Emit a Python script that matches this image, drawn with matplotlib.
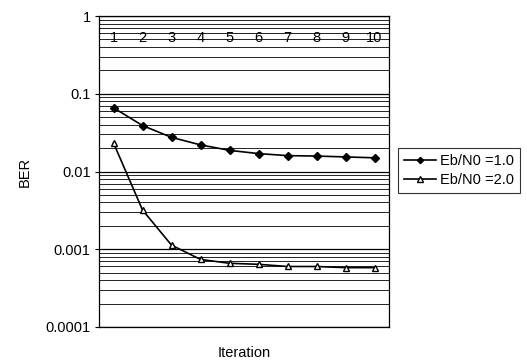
import matplotlib
matplotlib.use("Agg")
import matplotlib.pyplot as plt
import numpy as np
from matplotlib.ticker import LogLocator, FixedLocator, NullFormatter

plt.rcParams['font.family'] = ['Liberation Sans', 'DejaVu Sans']

iterations = [1, 2, 3, 4, 5, 6, 7, 8, 9, 10]
ber_eb1 = [0.066, 0.039, 0.0275, 0.022, 0.0187, 0.017, 0.016, 0.0158, 0.0154, 0.015]
ber_eb2 = [0.0233, 0.0032, 0.00113, 0.00074, 0.00066, 0.00064, 0.0006, 0.0006, 0.00058, 0.00058]
ytick_vals = [1, 0.1, 0.01, 0.001, 0.0001]
ytick_labels = ["1", "0.1", "0.01", "0.001", "0.0001"]

fig = plt.figure(figsize=(5.27, 3.60), dpi=100)
ax = fig.add_axes([99/527, 1-327/360, 290/527, 311/360])
ax.set_yscale('log')
ax.set_ylim(0.0001, 1)
ax.set_xlim(0.5, 10.5)

ax.yaxis.set_major_locator(FixedLocator(ytick_vals))
ax.set_yticklabels(ytick_labels, fontsize=10.5)
ax.yaxis.set_minor_locator(LogLocator(base=10, subs=np.arange(2, 10)))
ax.yaxis.set_minor_formatter(NullFormatter())
ax.grid(True, which='major', axis='y', color='black', linewidth=0.9)
ax.grid(True, which='minor', axis='y', color='#222222', linewidth=0.7)
ax.tick_params(axis='y', which='major', length=3, width=0.8, pad=3)
ax.tick_params(axis='y', which='minor', length=0)

ax.set_xticks([])
for it in iterations:
    ax.text(it, 0.929, str(it), transform=ax.get_xaxis_transform(),
            ha='center', va='center', fontsize=10.5)

ax.plot(iterations, ber_eb1, color='black', linewidth=1.2, marker='D',
        markersize=4, markerfacecolor='black', label='Eb/N0 =1.0')
ax.plot(iterations, ber_eb2, color='black', linewidth=1.2, marker='^',
        markersize=5, markerfacecolor='white', markeredgewidth=1.0, label='Eb/N0 =2.0')

for s in ax.spines.values():
    s.set_color('black')
    s.set_linewidth(0.9)

ax.set_ylabel('BER', fontsize=10.5, labelpad=10)
ax.set_xlabel('Iteration', fontsize=10.5, labelpad=14)

leg = ax.legend(loc='center left', bbox_to_anchor=(1.031, 0.503), fontsize=10.5,
                frameon=True, fancybox=False, edgecolor='black',
                handlelength=2.2, handletextpad=0.3, borderpad=0.4,
                labelspacing=0.4, borderaxespad=0, markerscale=0.8)
leg.get_frame().set_linewidth(0.8)

fig.savefig('out.png', dpi=100)
